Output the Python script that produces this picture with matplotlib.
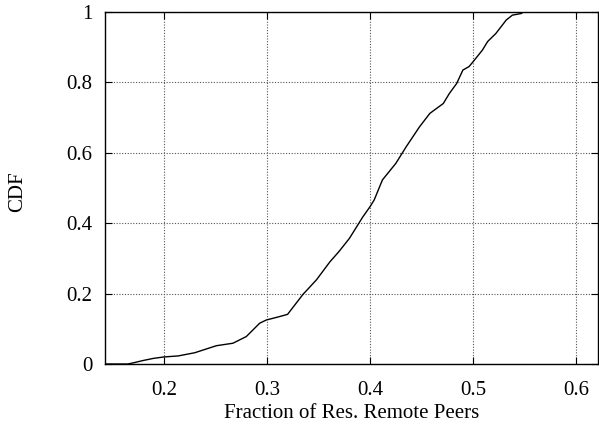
import numpy as np
import matplotlib
matplotlib.use("Agg")
import matplotlib.pyplot as plt

# points (fraction, cumulative probability)
frac = [0.143, 0.165, 0.170, 0.180, 0.190, 0.200, 0.214, 0.230, 0.251, 0.267,
        0.280, 0.293, 0.2994, 0.310, 0.320, 0.335, 0.348, 0.361, 0.370,
        0.380, 0.393, 0.400, 0.404, 0.412, 0.425, 0.435, 0.448, 0.458,
        0.471, 0.477, 0.484, 0.490, 0.496, 0.500, 0.509, 0.514, 0.522,
        0.532, 0.538, 0.547, 0.548, 0.621]
cdf = [0.0, 0.0, 0.003, 0.010, 0.016, 0.020, 0.023, 0.032, 0.052, 0.059,
       0.078, 0.116, 0.125, 0.133, 0.141, 0.198, 0.239, 0.290, 0.320,
       0.357, 0.418, 0.447, 0.466, 0.523, 0.570, 0.617, 0.674, 0.712,
       0.740, 0.769, 0.797, 0.835, 0.845, 0.859, 0.892, 0.916, 0.939,
       0.977, 0.991, 0.996, 1.0, 1.0]

xticks = [0.2, 0.3, 0.4, 0.5, 0.6]
yticks = [0, 0.2, 0.4, 0.6, 0.8, 1]
ytick_labels = ["0", "0.2", "0.4", "0.6", "0.8", "1"]

plt.rcParams["font.family"] = ["Liberation Serif", "DejaVu Serif"]
FS = 15.0

fig = plt.figure(figsize=(5.99, 4.28), dpi=100)
ax = fig.add_axes([0.1753, 0.1495, 0.8230, 0.8225])

ax.plot(frac, cdf, color="black", linewidth=1.0)

ax.set_xlim(0.143, 0.621)
ax.set_ylim(0, 1)
ax.set_xticks(xticks)
ax.set_yticks(yticks)
ax.set_yticklabels(ytick_labels)
ax.tick_params(direction="in", top=True, right=True, length=5,
               labelsize=FS, width=0.8)
ax.tick_params(axis="x", pad=12)
ax.tick_params(axis="y", pad=9)
ax.grid(True, color="#555555", linestyle=(0, (1, 1.5)), linewidth=0.8)
for s in ax.spines.values():
    s.set_linewidth(1.0)

fig.text(352 / 599, 1 - 413 / 428, "Fraction of Res. Remote Peers",
         fontsize=FS, ha="center", va="center")
fig.text(17.5 / 599, 1 - 192 / 428, "CDF", fontsize=FS, rotation=90,
         ha="center", va="center")

fig.savefig("out.png", dpi=100)
